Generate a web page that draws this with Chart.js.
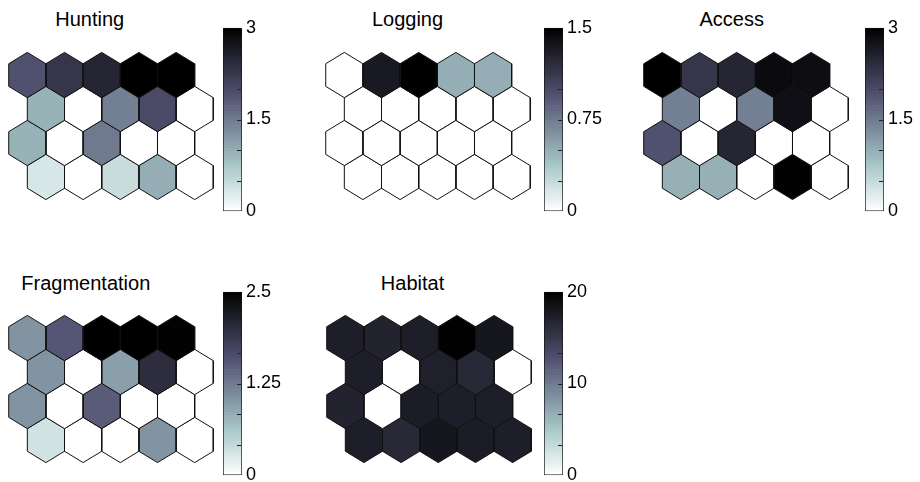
<!DOCTYPE html>
<html>
<head>
<meta charset="utf-8">
<script src="https://cdn.jsdelivr.net/npm/chart.js@4/dist/chart.umd.min.js"></script>
<style>
  html, body { margin: 0; padding: 0; background: #fff; }
  #wrap { position: relative; width: 920px; height: 482px; overflow: hidden;
          font-family: "Liberation Sans", Arial, Helvetica, sans-serif; }
  #wrap canvas { position: absolute; }
  .plane-title { position: absolute; font-size: 20px; line-height: 20px; color: #000;
                 white-space: nowrap; transform: translateX(-50%); }
</style>
</head>
<body>
<div id="wrap"></div>
<script>
// SOM map: 5 columns x 4 rows, listed row by row from the top row.
// Odd rows sit half a cell to the right (hexagonal lattice).
const gridCols = 5;
const gridRows = 4;

const titles = ["Hunting", "Logging", "Access", "Fragmentation", "Habitat"];

const hunting = [
  1.92, 2.28, 2.5, 3.0, 3.0,
  0.95, 0, 1.45, 2.0, 0,
  0.95, 0, 1.5, 0, 0,
  0.34, 0, 0.47, 1.0, 0
];
const logging = [
  0, 1.33, 1.5, 0.5, 0.5,
  0, 0, 0, 0, 0,
  0, 0, 0, 0, 0,
  0, 0, 0, 0, 0
];
const access = [
  3.0, 2.28, 2.5, 2.85, 2.82,
  1.45, 0, 1.45, 2.8, 0,
  1.92, 0, 2.5, 0, 0,
  0.98, 0.98, 0, 2.97, 0
];
const fragmentation = [
  1.04, 1.55, 2.5, 2.5, 2.48,
  1.04, 0, 0.95, 2.0, 0,
  1.04, 0, 1.5, 0, 0,
  0.33, 0, 0, 1.04, 0
];
const habitat = [
  17.3, 16.9, 17.3, 19.9, 18.0,
  17.3, 0, 17.1, 16.4, 0,
  16.9, 0, 17.5, 17.3, 17.3,
  17.3, 16.4, 18.0, 17.5, 17.3
];

// colour limits and labelled colourbar ticks for each plane
const colorMax = [3, 1.5, 3, 2.5, 20];
const huntingTicks = [0, 1.5, 3];
const loggingTicks = [0, 0.75, 1.5];
const accessTicks = [0, 1.5, 3];
const fragmentationTicks = [0, 1.25, 2.5];
const habitatTicks = [0, 10, 20];
const colorbarDivisions = 6;

const planeValues = [hunting, logging, access, fragmentation, habitat];
const planeTicks = [huntingTicks, loggingTicks, accessTicks, fragmentationTicks, habitatTicks];

// page placement of each plane (hex lattice corner, colourbar corner, title anchor)
const layout = [
  { hex: [8.3, 52.7],  bar: [223, 26.7], title: [89.7, 9] },
  { hex: [325.5, 52.7], bar: [544, 26.7], title: [407.5, 9] },
  { hex: [643.3, 52.7], bar: [865, 26.7], title: [731.7, 9] },
  { hex: [8.3, 315],   bar: [223, 291], title: [85.8, 273] },
  { hex: [326.5, 315], bar: [544, 291], title: [412.5, 273] }
];

const FONT = '"Liberation Sans", Arial, Helvetica, sans-serif';
Chart.defaults.font.family = FONT;

// reversed "bone" colormap: 0 -> white, 1 -> black
function bone(v) {
  const x = 1 - Math.min(1, Math.max(0, v));
  const hr = Math.min(1, x / 0.375);
  const hg = Math.min(1, Math.max(0, (x - 0.375) / 0.375));
  const hb = Math.min(1, Math.max(0, (x - 0.75) / 0.25));
  const r = (7 * x + hb) / 8, g = (7 * x + hg) / 8, b = (7 * x + hr) / 8;
  return `rgb(${Math.round(r * 255)},${Math.round(g * 255)},${Math.round(b * 255)})`;
}

// unit hexagon (pointy top) in lattice units: column step 1, row step 1
const HEX_SHAPE = [[0, 2 / 3], [0.5, 1 / 3], [0.5, -1 / 3], [0, -2 / 3], [-0.5, -1 / 3], [-0.5, 1 / 3], [0, 2 / 3]];

function hexDatasets(values, vmax) {
  return values.map((v, i) => {
    const row = Math.floor(i / gridCols);
    const col = i % gridCols;
    const cx = col + (row % 2) * 0.5;
    const cy = -row;
    return {
      data: HEX_SHAPE.map(([dx, dy]) => ({ x: cx + dx, y: cy + dy })),
      showLine: true,
      fill: 'shape',
      backgroundColor: bone(v / vmax),
      borderColor: '#111',
      borderWidth: 1,
      pointRadius: 0,
      tension: 0
    };
  });
}

// short tick marks on the inner right edge of a colourbar
const colorbarMarks = {
  id: 'colorbarMarks',
  afterDatasetsDraw(chart) {
    const y = chart.scales.y, a = chart.chartArea, c = chart.ctx;
    const step = (y.max - y.min) / colorbarDivisions;
    c.save();
    c.strokeStyle = '#222';
    c.lineWidth = 1;
    for (let k = 1; k < colorbarDivisions; k++) {
      const py = Math.round(y.getPixelForValue(y.min + k * step)) + 0.5;
      c.beginPath();
      c.moveTo(a.right - 5, py);
      c.lineTo(a.right - 1, py);
      c.stroke();
    }
    c.restore();
  }
};

const wrap = document.getElementById('wrap');
const HEX_W = 212, HEX_H = 154;      // canvas for x in [-0.6, 5.1], y in [-3.7667, 0.7667]
const BAR_W = 19, BAR_H = 185, BAR_AXIS = 45, BAR_PAD = 14;

function addCanvas(left, top, w, h) {
  const cv = document.createElement('canvas');
  cv.width = w; cv.height = h;
  cv.style.left = left + 'px'; cv.style.top = top + 'px';
  cv.style.width = w + 'px'; cv.style.height = h + 'px';
  wrap.appendChild(cv);
  return cv;
}

titles.forEach((name, p) => {
  const L = layout[p];
  const vmax = colorMax[p];

  // title
  const t = document.createElement('div');
  t.className = 'plane-title';
  t.textContent = name;
  t.style.left = L.title[0] + 'px';
  t.style.top = L.title[1] + 'px';
  wrap.appendChild(t);

  // component plane
  const hexCanvas = addCanvas(Math.round(L.hex[0] - 0.1 * HEX_W / 5.7), Math.round(L.hex[1] - 0.1 * HEX_H / 4.5333), HEX_W, HEX_H);
  new Chart(hexCanvas, {
    type: 'scatter',
    data: { datasets: hexDatasets(planeValues[p], vmax) },
    options: {
      responsive: false,
      animation: false,
      events: [],
      layout: { padding: 0 },
      plugins: { legend: { display: false }, tooltip: { enabled: false } },
      scales: {
        x: { type: 'linear', display: false, min: -0.6, max: gridCols + 0.1 },
        y: { type: 'linear', display: false, min: -(gridRows - 1) - 2 / 3 - 0.1, max: 2 / 3 + 0.1 }
      }
    }
  });

  // colourbar
  const ticks = planeTicks[p];
  const barCanvas = addCanvas(L.bar[0], Math.round(L.bar[1] - BAR_PAD), BAR_W + BAR_AXIS, BAR_H + 2 * BAR_PAD);
  new Chart(barCanvas, {
    type: 'bar',
    data: {
      labels: [''],
      datasets: [{
        data: [vmax],
        backgroundColor: (ctx) => {
          const ch = ctx.chart, a = ch.chartArea;
          if (!a) return '#888';
          const g = ch.ctx.createLinearGradient(0, a.bottom, 0, a.top);
          const n = 64;
          for (let k = 0; k < n; k++) {
            const col = bone((k + 0.5) / n);
            g.addColorStop(k / n, col);
            g.addColorStop((k + 1) / n, col);
          }
          return g;
        },
        borderColor: '#111',
        borderWidth: 1,
        borderSkipped: false,
        barPercentage: 1,
        categoryPercentage: 1
      }]
    },
    options: {
      responsive: false,
      animation: false,
      events: [],
      layout: { padding: { top: BAR_PAD, bottom: BAR_PAD, left: 0, right: 0 } },
      plugins: { legend: { display: false }, tooltip: { enabled: false } },
      scales: {
        x: { display: false },
        y: {
          position: 'right',
          min: 0,
          max: vmax,
          grid: { display: false, drawTicks: false },
          border: { display: false },
          afterBuildTicks: (s) => { s.ticks = ticks.map(v => ({ value: v })); },
          afterFit: (s) => { s.width = BAR_AXIS; },
          ticks: { padding: 4, color: '#000', font: { family: FONT, size: 18 }, callback: (v) => String(v) }
        }
      }
    },
    plugins: [colorbarMarks]
  });
});
</script>
</body>
</html>
